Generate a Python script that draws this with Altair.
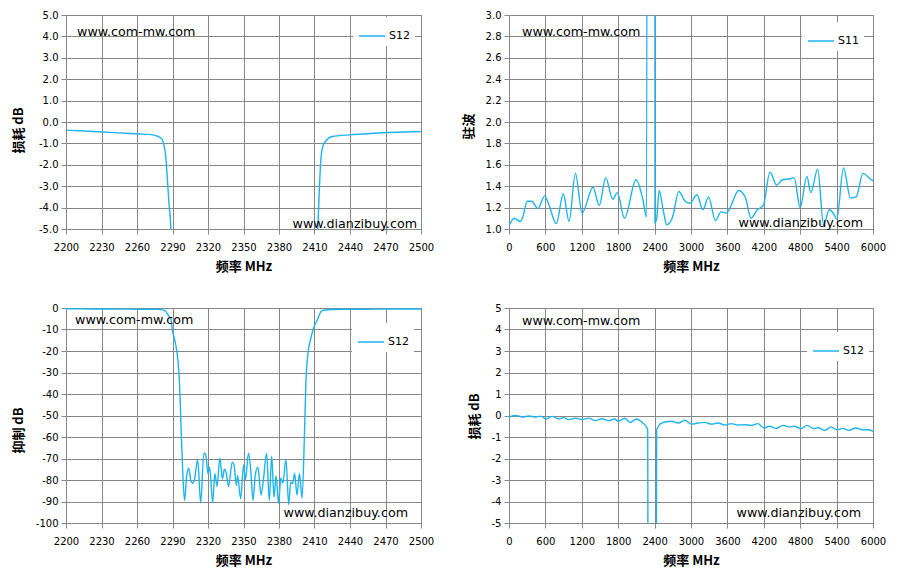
import altair as alt
import pandas as pd

# ---------------- data ----------------
# S12 narrow-band response (shared by the two 2200-2500 MHz panels)
s12n_freq = [2200, 2215, 2231, 2245, 2262, 2270, 2276, 2280, 2282, 2283, 2284.3, 2285.7, 2287, 2288.6,
             2289.8, 2291, 2292.6, 2294.6, 2295.8, 2296.6, 2297.5, 2298.6, 2300.2,
             2302.0, 2303.7, 2305.6, 2307.0, 2308.5, 2311.3, 2313.8, 2316.5, 2318.0, 2320.0,
             2321.4, 2323.9, 2325.8, 2327.6, 2330.0, 2332.2, 2333.8, 2335.5, 2337.4, 2340.5,
             2342.0, 2344.0, 2345.0, 2347.6, 2350.1, 2351.6, 2354.2, 2356.2, 2358.0, 2360.1,
             2362.2, 2364.8, 2366.8, 2369.5, 2371.8, 2373.8, 2375.8, 2377.5, 2379.7, 2381.5,
             2383.2, 2385.9, 2388.2, 2389.9, 2391.5, 2393.2, 2395.2, 2397.3, 2399.5,
             2401.7, 2402.8, 2404.5, 2406.5, 2409.3, 2411.5, 2412.8, 2414.2, 2415.6, 2417,
             2419.3, 2425, 2439, 2455, 2467, 2485, 2500]
s12n_db = [-0.38, -0.42, -0.47, -0.51, -0.56, -0.58, -0.64, -0.75, -0.9, -1.15, -1.6, -2.7, -3.8, -5.0,
           -10, -13, -16.7, -24.5, -33.7, -44.6, -60, -75.5, -89.6,
           -78, -74.5, -80.5, -81.5, -80, -70.5, -90.6, -67.5, -68, -77,
           -74, -90.6, -77, -83, -69.8, -79.5, -75, -77, -83, -71.7,
           -73, -82.5, -78, -88.7, -73, -80, -67.5, -76, -89.5, -77,
           -74, -87, -80, -67.5, -89.5, -68.9, -88, -78, -91, -79,
           -81.5, -70.4, -91.5, -81, -81.7, -77, -87, -77, -88.5,
           -55, -34, -21, -15, -9.3, -6.5, -5.0, -3.0, -1.6, -1.15,
           -0.9, -0.68, -0.6, -0.55, -0.5, -0.47, -0.45]

# S11 VSWR 0-6000 MHz
s11_freq = [0, 88, 182, 232, 300, 376, 476, 590, 655, 780, 895, 990, 1095, 1205, 1385, 1488, 1593,
            1710, 1786, 1903, 2095, 2205, 2268, 2290, 2403, 2406, 2433, 2475, 2544, 2600, 2690,
            2800, 2903, 2986, 3097, 3196, 3290, 3401, 3495, 3583, 3788, 3899, 3990, 4092, 4192,
            4302, 4413, 4507, 4645, 4700, 4799, 4910, 4975, 5088, 5185, 5281, 5364, 5403, 5513,
            5629, 5723, 5834, 5972, 6000]
s11_vswr = [1.03, 1.10, 1.07, 1.12, 1.26, 1.26, 1.19, 1.31, 1.23, 1.05, 1.33, 1.07, 1.52, 1.15, 1.39,
            1.22, 1.48, 1.28, 1.34, 1.10, 1.46, 1.28, 1.11, 12, 12, 1.06, 1.09, 1.36, 1.17, 1.04,
            1.10, 1.35, 1.26, 1.24, 1.32, 1.18, 1.30, 1.08, 1.16, 1.15, 1.36, 1.29, 1.10, 1.18,
            1.22, 1.53, 1.41, 1.46, 1.47, 1.48, 1.20, 1.49, 1.34, 1.56, 1.04, 1.18, 1.13, 1.09,
            1.57, 1.29, 1.30, 1.52, 1.46, 1.45]

# S12 wide-band 0-6000 MHz
s12w_freq = [0, 109, 219, 328, 438, 520, 613, 711, 820, 903, 985, 1094, 1203, 1313, 1422, 1532,
             1641, 1739, 1805, 1904, 1997, 2106, 2204, 2259, 2286, 2297, 2418, 2434, 2489, 2571,
             2680, 2790, 2899, 3009, 3118, 3227, 3337, 3446, 3556, 3665, 3774, 3884, 3993, 4102,
             4201, 4294, 4403, 4513, 4622, 4704, 4814, 4912, 5021, 5098, 5207, 5306, 5404, 5497,
             5607, 5716, 5825, 5935, 6000]
s12w_db = [-0.07, 0.0, -0.07, -0.02, -0.07, -0.03, -0.16, -0.04, -0.16, -0.10, -0.19, -0.12, -0.19,
           -0.12, -0.24, -0.15, -0.24, -0.16, -0.27, -0.13, -0.32, -0.16, -0.35, -0.50, -0.66, -20,
           -20, -0.66, -0.40, -0.30, -0.27, -0.35, -0.22, -0.40, -0.35, -0.32, -0.40, -0.35, -0.44,
           -0.38, -0.44, -0.43, -0.46, -0.38, -0.58, -0.50, -0.60, -0.46, -0.53, -0.50, -0.61,
           -0.46, -0.61, -0.57, -0.69, -0.53, -0.66, -0.60, -0.69, -0.58, -0.66, -0.66, -0.74]

# axis ticks
x_ticks_narrow = [2200, 2230, 2260, 2290, 2320, 2350, 2380, 2410, 2440, 2470, 2500]
x_ticks_wide = [0, 600, 1200, 1800, 2400, 3000, 3600, 4200, 4800, 5400, 6000]
y_ticks_loss = [-5, -4, -3, -2, -1, 0, 1, 2, 3, 4, 5]
y_ticks_vswr = [1.0, 1.2, 1.4, 1.6, 1.8, 2.0, 2.2, 2.4, 2.6, 2.8, 3.0]
y_ticks_rej = [-100, -90, -80, -70, -60, -50, -40, -30, -20, -10, 0]

# texts
x_title = "频率 MHz"
y_titles = ["损耗 dB", "驻波", "抑制 dB", "损耗 dB"]
series_names = ["S12", "S11", "S12", "S12"]
watermark_top = ["www.com-mw.com"]
watermark_bottom = ["www.dianzibuy.com"]

# ---------------- styling ----------------
FONT = "DejaVu Sans"
CJK = "Noto Sans CJK SC"
GRID = "#878787"
LINE = "#1CB4EE"


def label_expr(fmt):
    return ("datum.value < 0 ? '-' + format(-datum.value, '%s') : format(datum.value, '%s')"
            % (fmt, fmt))


def panel(freq, vals, series, xdom, xticks, ydom, yticks, yfmt, ytitle,
          ytx, yty, w, h, lx, ly, wm1, wm2):
    df = pd.DataFrame({"f": freq, "v": vals, "s": series})
    line = alt.Chart(df).mark_line(
        clip=True, interpolate="monotone", strokeWidth=1.4
    ).encode(
        x=alt.X("f:Q", scale=alt.Scale(domain=xdom, nice=False, zero=False),
                axis=alt.Axis(values=xticks, format="d", title=x_title,
                              labelFlush=False, labelOverlap=False,
                              titleY=37, titleBaseline="middle")),
        y=alt.Y("v:Q", scale=alt.Scale(domain=ydom, nice=False, zero=False),
                axis=alt.Axis(values=yticks, labelExpr=label_expr(yfmt), title=ytitle,
                              labelFlush=False, labelOverlap=False,
                              titleX=ytx, titleY=yty, titleAngle=270,
                              titleBaseline="middle", titleAlign="center")),
        color=alt.Color("s:N", scale=alt.Scale(domain=[series], range=[LINE]),
                        legend=alt.Legend(title=None, orient="none", legendX=lx, legendY=ly,
                                          fillColor="white", padding=5, symbolType="stroke",
                                          symbolSize=676, symbolStrokeWidth=1.5,
                                          labelOffset=3, labelFont=FONT, labelFontSize=11,
                                          labelColor="#000000")),
    )
    t1 = alt.Chart(pd.DataFrame({"t": watermark_top})).mark_text(
        align="left", baseline="middle", font=FONT, fontSize=12.7, color="#000000"
    ).encode(x=alt.value(wm1[0]), y=alt.value(wm1[1]), text="t:N")
    t2 = alt.Chart(pd.DataFrame({"t": watermark_bottom})).mark_text(
        align="right", baseline="middle", font=FONT, fontSize=12.7, color="#000000"
    ).encode(x=alt.value(wm2[0]), y=alt.value(wm2[1]), text="t:N")
    return alt.layer(line, t1, t2).properties(width=w, height=h)


p1 = panel(s12n_freq, s12n_db, series_names[0], [2200, 2500], x_ticks_narrow, [-5, 5], y_ticks_loss,
           ".1f", y_titles[0], -48, 115, 355, 214, 287, 2, (11, 17), (351, 209))
p2 = panel(s11_freq, s11_vswr, series_names[1], [0, 6000], x_ticks_wide, [1, 3], y_ticks_vswr,
           ".1f", y_titles[1], -41, 111, 364, 214, 293, 7, (13, 17), (354, 208))
p3 = panel(s12n_freq, s12n_db, series_names[2], [2200, 2500], x_ticks_narrow, [-100, 0], y_ticks_rej,
           "d", y_titles[2], -48, 122, 355, 215, 286, 15, (9, 12), (342, 205))
p4 = panel(s12w_freq, s12w_db, series_names[3], [0, 6000], x_ticks_wide, [-5, 5], y_ticks_loss,
           "d", y_titles[3], -35, 108, 364, 215, 298, 24, (13, 13), (352, 205))

chart = alt.concat(
    p1, p2, p3, p4, columns=2, spacing={"row": 79, "column": 88}, bounds="flush", align="each"
).resolve_scale(
    color="independent"
).resolve_legend(
    color="independent"
).properties(
    padding={"left": 3, "top": 1, "right": 5, "bottom": 5}
).configure_view(
    stroke=GRID, strokeWidth=1
).configure_axis(
    gridColor=GRID, gridOpacity=1, gridWidth=1,
    domainColor=GRID, domainWidth=1,
    tickColor=GRID, tickSize=5, tickWidth=1,
    labelFont=FONT, labelFontSize=10, labelColor="#000000",
    titleFont=CJK, titleFontSize=13, titleFontWeight="bold", titleColor="#000000",
).configure_axisX(
    labelPadding=8
).configure_axisY(
    labelPadding=3
)

chart.save("out.html", embed_options={"renderer": "svg", "actions": False})
